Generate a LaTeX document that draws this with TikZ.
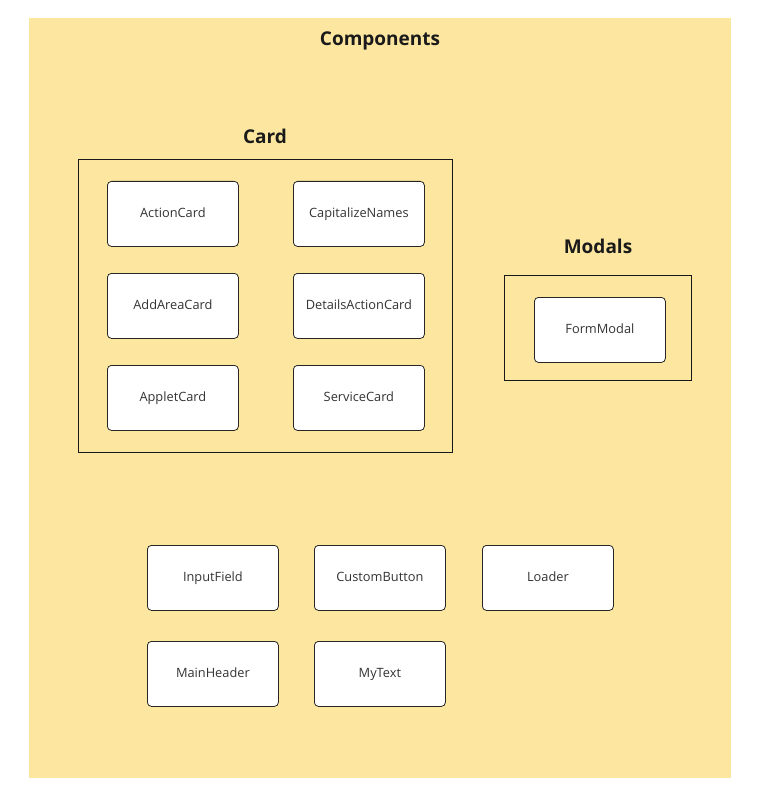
\documentclass[tikz,border=0pt]{standalone}
\usepackage{fontspec}
\setmainfont{Open Sans}
\definecolor{bgy}{HTML}{FDE7A0}
\definecolor{txt}{HTML}{333333}
\definecolor{ttl}{HTML}{1A1A1A}
\begin{document}
\begin{tikzpicture}[x=1pt,y=-1pt,
  comp/.style={draw=black!85,fill=white,rounded corners=4pt,line width=0.8pt,minimum width=131pt,minimum height=65pt,inner sep=0pt,anchor=north west,font=\fontsize{12.8}{14}\selectfont,text=txt,text height=10pt,text depth=2pt},
  frame/.style={draw=black!90,line width=0.8pt},
  ttlstyle/.style={font=\fontsize{19}{22}\selectfont\bfseries,text=ttl,text height=14pt,text depth=4pt}]
\useasboundingbox (0,0) rectangle (763,802);
\fill[white] (0,0) rectangle (763,802);
\fill[bgy] (29,18) rectangle (731,778);
\node[ttlstyle] (title) at (380,41) {Components};
% Card group
\node[ttlstyle] (cardt) at (265,139) {Card};
\node[frame,minimum width=374pt,minimum height=293pt,anchor=north west,inner sep=0pt] (cardf) at (78,159) {};
\node[comp] (ac) at (107,181) {ActionCard};
\node[comp] (cn) at (293,181) {CapitalizeNames};
\node[comp] (aa) at (107,273) {AddAreaCard};
\node[comp] (da) at (293,273) {DetailsActionCard};
\node[comp] (ap) at (107,365) {AppletCard};
\node[comp] (sc) at (293,365) {ServiceCard};
% Modals group
\node[ttlstyle] (modt) at (598,248) {Modals};
\node[frame,minimum width=187pt,minimum height=105pt,anchor=north west,inner sep=0pt] (modf) at (504,275) {};
\node[comp] (fm) at (534,297) {FormModal};
% loose components
\node[comp] (inf) at (147,545) {InputField};
\node[comp] (cb) at (314,545) {CustomButton};
\node[comp] (ld) at (482,545) {Loader};
\node[comp] (mh) at (147,641) {MainHeader};
\node[comp] (mt) at (314,641) {MyText};
\end{tikzpicture}
\end{document}
